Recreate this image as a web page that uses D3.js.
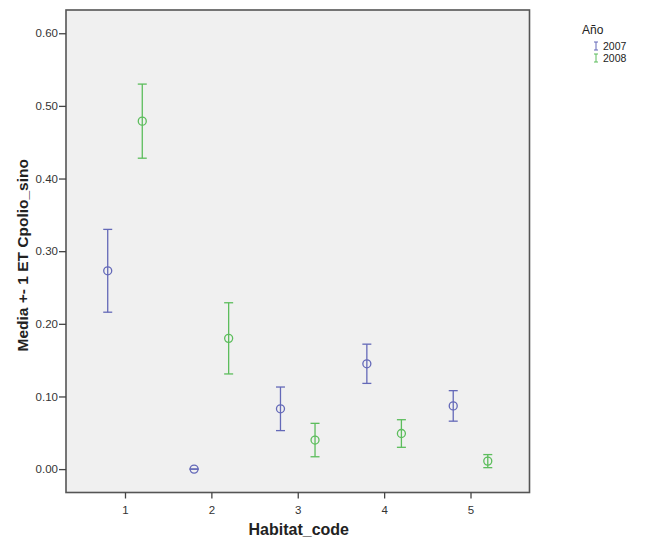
<!DOCTYPE html>
<html>
<head>
<meta charset="utf-8">
<script src="https://cdn.jsdelivr.net/npm/d3@7"></script>
<style>
body{margin:0;background:#fff;}
text{font-family:"Liberation Sans",Arial,sans-serif;}
</style>
</head>
<body>
<svg id="chart" width="650" height="539"></svg>
<script>
const habitats = [1, 2, 3, 4, 5];
const years = ["2007", "2008"];
const colors = ["#6469b8", "#5cbd5c"];
const mean2007 = [0.273, 0.000, 0.083, 0.145, 0.087];
const se2007   = [0.057, 0.000, 0.030, 0.027, 0.021];
const mean2008 = [0.479, 0.180, 0.040, 0.049, 0.011];
const se2008   = [0.051, 0.049, 0.023, 0.019, 0.009];
const yTicks = [0, 0.1, 0.2, 0.3, 0.4, 0.5, 0.6];

const svg = d3.select("#chart");
const L = 66, R = 529.5, T = 10, B = 492.5;
const x = d3.scaleLinear().domain([0.317, 5.683]).range([L, R]);
const y = d3.scaleLinear().domain([-0.0322, 0.632]).range([B, T]);

svg.append("rect").attr("x", L).attr("y", T).attr("width", R - L).attr("height", B - T)
  .attr("fill", "#f0f0f0").attr("stroke", "#555").attr("stroke-width", 1.6);

// axes
const yAxis = d3.axisLeft(y).tickValues(yTicks).tickFormat(d3.format(".2f")).tickSize(7).tickPadding(1);
const gy = svg.append("g").attr("transform", `translate(${L},0)`).call(yAxis);
gy.select(".domain").remove();
gy.selectAll("line").attr("stroke", "#444").attr("stroke-width", 1.3);
gy.selectAll("text").attr("font-size", 11.5).attr("fill", "#333");

const xAxis = d3.axisBottom(x).tickValues(habitats).tickFormat(d3.format("d")).tickSize(6).tickPadding(7);
const gx = svg.append("g").attr("transform", `translate(0,${B})`).call(xAxis);
gx.select(".domain").remove();
gx.selectAll("line").attr("stroke", "#444").attr("stroke-width", 1.3);
gx.selectAll("text").attr("font-size", 11.5).attr("fill", "#333");

svg.append("text").attr("x", (L + R) / 2 + 1).attr("y", 535).attr("text-anchor", "middle")
  .attr("font-size", 16).attr("font-weight", "bold").attr("fill", "#222").text("Habitat_code");
svg.append("text").attr("transform", `translate(28,${(T + B) / 2 + 4}) rotate(-90)`).attr("text-anchor", "middle")
  .attr("font-size", 15.5).attr("font-weight", "bold").attr("fill", "#222").text("Media +- 1 ET Cpolio_sino");

// data
const series = [
  {year: years[0], color: colors[0], offset: -0.2, mean: mean2007, se: se2007},
  {year: years[1], color: colors[1], offset: 0.2, mean: mean2008, se: se2008}
];
const cap = 4.5;
series.forEach(s => {
  const pts = habitats.map((h, i) => ({h, m: s.mean[i], e: s.se[i]}));
  const g = svg.append("g").attr("stroke", s.color).attr("fill", "none").attr("stroke-width", 1.3);
  pts.forEach(p => {
    const cx = x(p.h + s.offset);
    g.append("line").attr("x1", cx).attr("x2", cx).attr("y1", y(p.m + p.e)).attr("y2", y(p.m - p.e));
    g.append("line").attr("x1", cx - cap).attr("x2", cx + cap).attr("y1", y(p.m + p.e)).attr("y2", y(p.m + p.e));
    g.append("line").attr("x1", cx - cap).attr("x2", cx + cap).attr("y1", y(p.m - p.e)).attr("y2", y(p.m - p.e));
    g.append("circle").attr("cx", cx).attr("cy", y(p.m)).attr("r", 4).attr("fill", "none");
  });
});

// legend
svg.append("text").attr("x", 582).attr("y", 34).attr("font-size", 12).attr("fill", "#222").text("Año");
series.forEach((s, i) => {
  const ly = 46 + i * 12;
  const g = svg.append("g").attr("stroke", s.color).attr("stroke-width", 1);
  g.append("line").attr("x1", 596).attr("x2", 596).attr("y1", ly - 4).attr("y2", ly + 4);
  g.append("line").attr("x1", 594).attr("x2", 598).attr("y1", ly - 4).attr("y2", ly - 4);
  g.append("line").attr("x1", 594).attr("x2", 598).attr("y1", ly + 4).attr("y2", ly + 4);
  svg.append("text").attr("x", 603).attr("y", ly + 4).attr("font-size", 10.5).attr("fill", "#222").text(s.year);
});
</script>
</body>
</html>
